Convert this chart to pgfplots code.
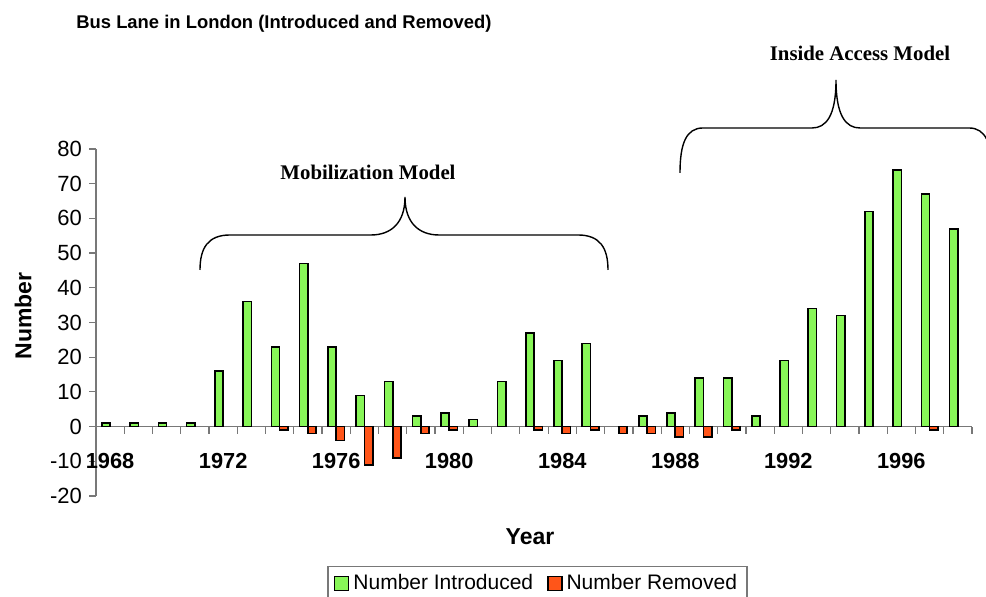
\documentclass[border=0pt]{standalone}
\usepackage{pgfplots}
\pgfplotsset{compat=1.18}
\usepackage{fontspec}
\setmainfont{Liberation Sans}
\newfontfamily\timesfont{Liberation Serif}

\definecolor{introgreen}{RGB}{136,246,88}
\definecolor{removred}{RGB}{255,85,25}
\definecolor{axisgray}{RGB}{120,120,120}

\begin{document}
\begin{tikzpicture}
\useasboundingbox (-48pt,-50.5pt) rectangle (445pt,248pt);
\begin{axis}[
    at={(0,0)}, anchor=south west,
    scale only axis, width=438pt, height=173.5pt,
    xmin=1967.5, xmax=1998.5, ymin=-20, ymax=80,
    axis x line=middle, axis y line=left,
    axis line style={draw=axisgray, line width=0.6pt, -},
    every tick/.style={draw=axisgray, line width=0.6pt},
    tick align=outside,
    major tick length=3.5pt,
    hide obscured x ticks=false, hide obscured y ticks=false,
    ybar=0pt, bar width=4.15pt,
    xtick={1967.5,1968.5,...,1998.5},
    xticklabels={},
    extra x ticks={1968,1972,1976,1980,1984,1988,1992,1996},
    extra x tick style={major tick length=0pt},
    extra x tick labels={1968,1972,1976,1980,1984,1988,1992,1996},
    x tick label style={font=\bfseries\fontsize{10.9}{12}\selectfont, yshift=-10pt},
    ytick={-20,-10,...,80},
    y tick label style={font=\fontsize{11}{12}\selectfont},
    /pgf/number format/assume math mode=true,
    xlabel={Year}, ylabel={Number},
    xlabel style={at={(axis description cs:0.4954,-0.118)}, anchor=center, font=\bfseries\fontsize{11.5}{13}\selectfont},
    ylabel style={at={(axis description cs:-0.0833,0.519)}, anchor=center, font=\bfseries\fontsize{11.5}{13}\selectfont},
    legend style={at={(axis description cs:0.504,-0.2017)}, anchor=north,
        legend columns=2, draw=axisgray, line width=0.6pt,
        font=\fontsize{10.5}{12}\selectfont,
        /tikz/every even column/.append style={column sep=5pt}},
    legend image code/.code={\draw[#1,/tikz/.cd,yshift=-0.33em,line width=0.7pt] (0cm,0cm) rectangle (0.7em,0.68em);},
    clip=false,
]
% Number Introduced
\addplot[draw=black, line width=0.8pt, fill=introgreen] coordinates {
    (1968,1) (1969,1) (1970,1) (1971,1) (1972,16) (1973,36) (1974,23) (1975,47)
    (1976,23) (1977,9) (1978,13) (1979,3) (1980,4) (1981,2) (1982,13) (1983,27)
    (1984,19) (1985,24) (1987,3) (1988,4) (1989,14) (1990,14) (1991,3) (1992,19)
    (1993,34) (1994,32) (1995,62) (1996,74) (1997,67) (1998,57)};
\addlegendentry{Number Introduced}
% Number Removed
\addplot[draw=black, line width=0.8pt, fill=removred] coordinates {
    (1974,-1) (1975,-2) (1976,-4) (1977,-11) (1978,-9) (1979,-2) (1980,-1)
    (1983,-1) (1984,-2) (1985,-1) (1986,-2) (1987,-2) (1988,-3) (1989,-3)
    (1990,-1) (1997,-1)};
\addlegendentry{Number Removed}
\end{axis}

% title
\node[anchor=west, inner sep=0pt, font=\bfseries\fontsize{9.2}{11}\selectfont] at (-10pt,236pt)
    {Bus Lane in London (Introduced and Removed)};

% braces
\draw[black, line width=0.7pt]
    (52pt,113pt) .. controls (52pt,124pt) and (56pt,130.5pt) .. (67pt,130.5pt)
    -- (137.5pt,130.5pt) .. controls (147pt,130.5pt) and (154.5pt,136pt) .. (154.5pt,149.5pt)
    .. controls (154.5pt,136pt) and (162pt,130.5pt) .. (171.5pt,130.5pt)
    -- (241pt,130.5pt) .. controls (252pt,130.5pt) and (256pt,124pt) .. (256pt,113pt);
\draw[black, line width=0.7pt]
    (292pt,161.5pt) .. controls (292pt,176pt) and (295pt,184pt) .. (303.5pt,184pt)
    -- (358pt,184pt) .. controls (365pt,184pt) and (370pt,190pt) .. (370pt,208pt)
    .. controls (370pt,190pt) and (375pt,184pt) .. (382pt,184pt)
    -- (436.5pt,184pt) .. controls (445pt,184pt) and (448pt,176pt) .. (448pt,161.5pt);
\node[font=\timesfont\bfseries\fontsize{10.4}{12}\selectfont] at (136pt,162pt) {Mobilization Model};
\node[font=\timesfont\bfseries\fontsize{10.4}{12}\selectfont] at (382pt,221.5pt) {Inside Access Model};
\end{tikzpicture}
\end{document}
